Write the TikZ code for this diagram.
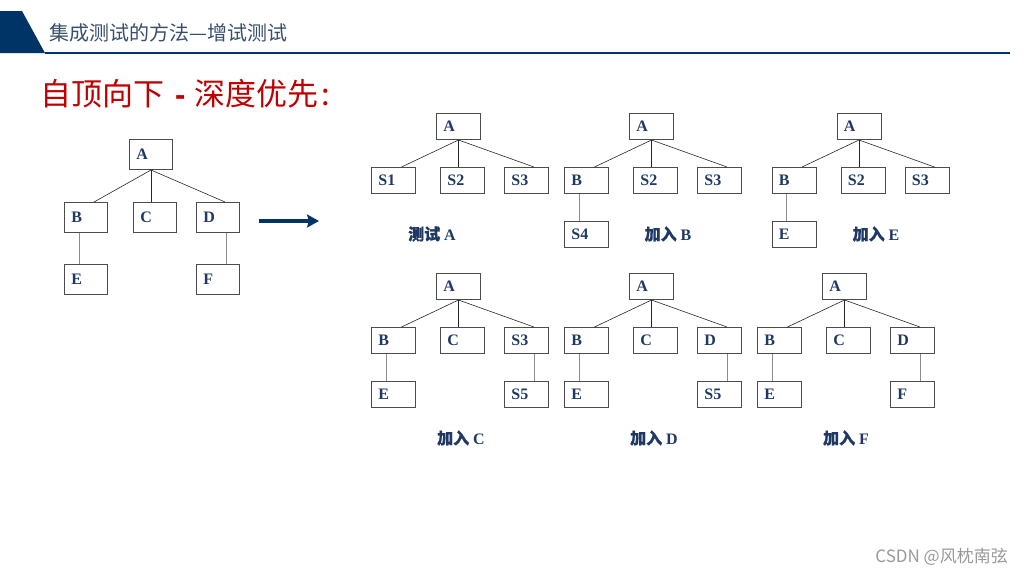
\documentclass[tikz,border=0pt]{standalone}
\usepackage{fontspec}
\setmainfont{Liberation Serif}
\newfontfamily\cjk{Noto Sans CJK SC}
\newfontfamily\cjkb{Noto Sans CJK SC}[FakeBold=0.6]
\newfontfamily\lsans{Liberation Sans}
\usetikzlibrary{arrows.meta,positioning}
\definecolor{navy}{RGB}{0,51,102}
\definecolor{boxtext}{RGB}{31,56,100}
\definecolor{titlegray}{RGB}{55,78,108}
\definecolor{headred}{RGB}{192,0,0}

\begin{document}
\begin{tikzpicture}[
  x=1pt,y=-1pt,
  node distance=27pt,
  box/.style={draw=black!70,line width=.8pt,minimum width=44.2pt,minimum height=26.2pt,
    text width=30.2pt,inner xsep=7pt,inner ysep=0pt,align=left,text=boxtext,
    font=\fontsize{16}{18}\selectfont\bfseries},
  bigbox/.style={box,minimum width=43.2pt,minimum height=30.2pt,text width=29.2pt},
  link/.style={black!85,line width=.6pt},
  stem/.style={black!45,line width=1pt},
  caption/.style={text=boxtext,font=\fontsize{16}{18}\selectfont\bfseries}
]
  \useasboundingbox (0,0) rectangle (1024,576);

  % header
  \fill[navy] (0,11) -- (22,11) -- (45,53) -- (0,53) -- cycle;
  \draw[navy,line width=2pt] (45,53) -- (1010,53);
  \node[anchor=west,inner sep=0pt,text=titlegray,font=\cjk\fontsize{20}{24}\selectfont]
    (title) at (49,33) {集成测试的方法—增试测试};
  \node[anchor=west,inner sep=0pt,text=headred,font=\cjk\fontsize{31}{36}\selectfont]
    (heading) at (40,94) {自顶向下{\lsans\bfseries\hspace{11pt}-\hspace{9pt}}深度优先\hspace{3pt}:};

  % the whole tree
  \node[bigbox] (A) at (151,154.5) {A};
  \node[bigbox,below=32pt of A,xshift=-65pt] (B) {B};
  \node[bigbox,below=32pt of A,xshift=4pt] (C) {C};
  \node[bigbox,below=32pt of A,xshift=67pt] (D) {D};
  \node[bigbox,below=31pt of B] (E) {E};
  \node[bigbox,below=31pt of D] (F) {F};
  \draw[link] (A.south) -- ([xshift=8pt]B.north);
  \draw[link] (A.south) -- (A.south |- C.north);
  \draw[link] (A.south) -- ([xshift=7pt]D.north);
  \draw[stem] ([xshift=-7pt]B.south) -- ([xshift=-7pt]E.north);
  \draw[stem] ([xshift=8pt]D.south) -- ([xshift=8pt]F.north);

  \coordinate (go) at (259,221);
  \coordinate (stop) at (319,221);
  \draw[navy,line width=3.5pt,-{Stealth[length=12pt,width=13pt,inset=2pt]}] (go) -- (stop);

  % steps
  \foreach \t/\x/\y/\l/\m/\r in {1/458.5/126.5/S1/S2/S3,2/651.5/126.5/B/S2/S3,
      3/859/126.5/B/S2/S3,4/458.5/286.5/B/C/S3,5/651.5/286.5/B/C/D,6/844.5/286.5/B/C/D}{
    \node[box] (a\t) at (\x,\y) {A};
    \node[box,below=of a\t,xshift=-65pt] (l\t) {\l};
    \node[box,below=of a\t,xshift=4pt] (m\t) {\m};
    \node[box,below=of a\t,xshift=68pt] (r\t) {\r};
    \draw[link] (a\t.south) -- ([xshift=8pt]l\t.north);
    \draw[link] (a\t.south) -- (a\t.south |- m\t.north);
    \draw[link] (a\t.south) -- ([xshift=7.5pt]r\t.north);
  }
  \foreach \t/\l in {2/S4,3/E,4/E,5/E,6/E}{
    \node[box,below=of l\t] (ll\t) {\l};
    \draw[stem] ([xshift=-7.5pt]l\t.south) -- ([xshift=-7.5pt]ll\t.north);
  }
  \foreach \t/\l in {4/S5,5/S5,6/F}{
    \node[box,below=of r\t] (rr\t) {\l};
    \draw[stem] ([xshift=7.5pt]r\t.south) -- ([xshift=7.5pt]rr\t.north);
  }
  \foreach \x/\y/\w/\c in {432/234/测试/A,668/234/加入/B,876/234/加入/E,
      461/438/加入/C,654/438/加入/D,846/438/加入/F}
    \node[caption] (cap\c) at (\x,\y) {{\cjkb\w} \c};

  \node[anchor=east,inner sep=0pt,text=black!40,font=\cjk\fontsize{17}{20}\selectfont]
    (mark) at (1008,557) {CSDN @风枕南弦};
\end{tikzpicture}
\end{document}
